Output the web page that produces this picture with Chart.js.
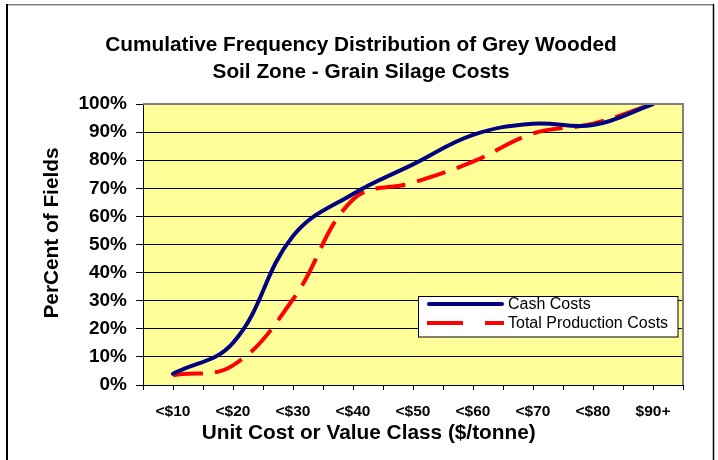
<!DOCTYPE html>
<html>
<head>
<meta charset="utf-8">
<script src="https://cdn.jsdelivr.net/npm/chart.js@4/dist/chart.umd.min.js"></script>
<style>
html,body{margin:0;padding:0;background:#fff;}
#wrap{width:718px;height:460px;}
</style>
</head>
<body>
<div id="wrap"><canvas id="c" width="718" height="460"></canvas></div>
<script>
// ---- data ----
const categories = ['<$10', '<$20', '<$30', '<$40', '<$50', '<$60', '<$70', '<$80', '$90+'];
const cashCosts = [4, 15, 53, 68, 78.5, 89, 93, 92.5, 100];
const totalProductionCosts = [3.5, 7, 30.5, 66, 72, 79.5, 89.5, 93, 100];
const seriesNames = ['Cash Costs', 'Total Production Costs'];
const titleLines = ['Cumulative Frequency Distribution of Grey Wooded', 'Soil Zone - Grain Silage Costs'];
const xAxisTitle = 'Unit Cost or Value Class ($/tonne)';
const yAxisTitle = 'PerCent of Fields';

const FONT = '"Liberation Sans", Arial, sans-serif';
const toPoints = arr => arr.map((v, i) => ({ x: i + 1, y: v }));

const decorPlugin = {
  id: 'decor',
  afterLayout(chart) {
    const t = chart.titleBlock;
    if (t) {
      const d = 361 - (t.left + t.right) / 2;
      t.left += d; t.right += d;
    }
  },
  beforeDraw(chart) {
    const { ctx, chartArea: a } = chart;
    ctx.save();
    ctx.fillStyle = '#ffffff';
    ctx.fillRect(0, 0, chart.width, chart.height);
    ctx.fillStyle = '#FFFF99';
    ctx.fillRect(a.left, a.top, a.right - a.left, a.bottom - a.top);
    ctx.restore();
  },
  afterDraw(chart) {
    const { ctx, chartArea: a } = chart;
    ctx.save();
    // outer frame
    ctx.strokeStyle = '#808080';
    ctx.lineWidth = 1.5;
    ctx.beginPath(); ctx.moveTo(6, 4.8); ctx.lineTo(714, 4.8); ctx.stroke();
    ctx.strokeStyle = '#000';
    ctx.lineWidth = 2;
    ctx.beginPath(); ctx.moveTo(7, 4); ctx.lineTo(7, 460); ctx.stroke();
    ctx.lineWidth = 1.5;
    ctx.beginPath(); ctx.moveTo(713.5, 4); ctx.lineTo(713.5, 460); ctx.stroke();
    // plot area top/right border
    ctx.strokeStyle = '#808080';
    ctx.lineWidth = 2;
    ctx.beginPath();
    ctx.moveTo(a.left, a.top); ctx.lineTo(a.right, a.top); ctx.lineTo(a.right, a.bottom);
    ctx.stroke();
    // axis titles
    ctx.fillStyle = '#000';
    ctx.font = 'bold 20.8px ' + FONT;
    ctx.textAlign = 'center';
    ctx.textBaseline = 'middle';
    ctx.fillText(xAxisTitle, 368.7, 433);
    ctx.translate(52, 233);
    ctx.rotate(-Math.PI / 2);
    ctx.fillText(yAxisTitle, 0, 0);
    ctx.restore();

    // legend
    ctx.save();
    const lx = 418.5, ly = 296.5, lw = 259.5, lh = 40.5;
    ctx.fillStyle = '#fff';
    ctx.fillRect(lx, ly, lw, lh);
    ctx.strokeStyle = '#000';
    ctx.lineWidth = 1;
    ctx.strokeRect(lx, ly, lw, lh);
    chart.data.datasets.forEach((ds, i) => {
      const y = 304 + i * 19;
      ctx.strokeStyle = ds.borderColor;
      ctx.lineWidth = ds.borderWidth;
      ctx.lineCap = i === 0 ? 'round' : 'butt';
      ctx.setLineDash(i === 0 ? [] : [36, 22]);
      ctx.beginPath();
      ctx.moveTo(i === 0 ? 429 : 427, y);
      ctx.lineTo(i === 0 ? 502 : 504, y);
      ctx.stroke();
      ctx.setLineDash([]);
      ctx.fillStyle = '#000';
      ctx.font = '16px ' + FONT;
      ctx.textAlign = 'left';
      ctx.textBaseline = 'middle';
      ctx.fillText(ds.label, 508, y + 0.5);
    });
    ctx.restore();
  }
};

new Chart(document.getElementById('c'), {
  type: 'line',
  data: {
    datasets: [
      {
        label: seriesNames[0],
        data: toPoints(cashCosts),
        borderColor: '#000080',
        borderWidth: 4,
        pointRadius: 0,
        tension: 0.4,
        fill: false,
        borderCapStyle: 'round',
        borderJoinStyle: 'round'
      },
      {
        label: seriesNames[1],
        data: toPoints(totalProductionCosts),
        borderColor: '#FF0000',
        borderWidth: 4,
        borderDash: [30, 12],
        pointRadius: 0,
        tension: 0.4,
        fill: false,
        borderCapStyle: 'butt'
      }
    ]
  },
  options: {
    responsive: false,
    animation: false,
    devicePixelRatio: 1,
    layout: { padding: { left: 10, right: 35, top: 10, bottom: 0 } },
    plugins: {
      legend: { display: false },
      tooltip: { enabled: false },
      title: {
        display: true,
        text: titleLines,
        color: '#000',
        font: { family: FONT, size: 20.8, weight: 'bold', lineHeight: 27 / 20.8 },
        padding: { top: 22, bottom: 18 }
      }
    },
    scales: {
      x: {
        type: 'linear',
        min: 0.5,
        max: 9.5,
        afterFit(s) { s.height = 75; },
        ticks: {
          stepSize: 0.5,
          maxTicksLimit: 40,
          autoSkip: false,
          maxRotation: 0,
          minRotation: 0,
          color: '#000',
          padding: 12,
          font: { family: FONT, size: 15.5, weight: 'bold' },
          callback(v) { return Number.isInteger(v) ? categories[v - 1] : ''; }
        },
        grid: { drawOnChartArea: false, drawTicks: true, tickLength: 5, color: '#000' },
        border: { color: '#000', width: 1 }
      },
      y: {
        min: 0,
        max: 100,
        afterFit(s) { s.width = 133; },
        ticks: {
          stepSize: 10,
          color: '#000',
          padding: 9,
          font: { family: FONT, size: 19, weight: 'bold' },
          callback(v) { return v + '%'; }
        },
        grid: {
          color(c) { return c.tick && c.tick.value === 100 ? '#808080' : '#000'; },
          tickColor: '#000',
          tickLength: 7
        },
        border: { color: '#000', width: 1 }
      }
    }
  },
  plugins: [decorPlugin]
});
</script>
</body>
</html>
